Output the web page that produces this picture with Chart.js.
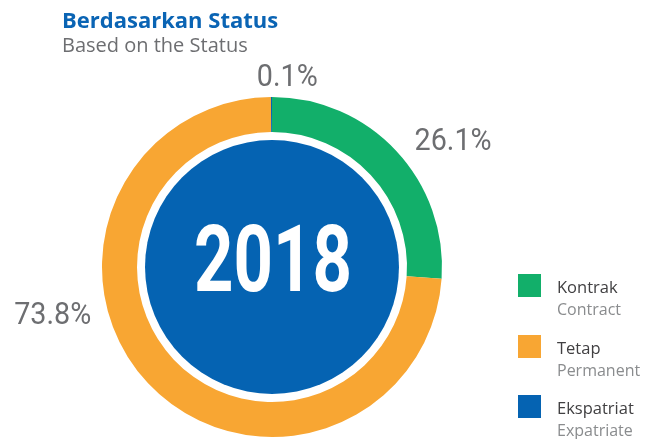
<!DOCTYPE html>
<html>
<head>
<meta charset="utf-8">
<script src="https://cdn.jsdelivr.net/npm/chart.js@4/dist/chart.umd.min.js"></script>
<style>
  html, body { margin: 0; padding: 0; background: #ffffff; }
  #wrap { position: relative; width: 657px; height: 439px; }
  canvas { display: block; }
</style>
</head>
<body>
<div id="wrap"><canvas id="c" width="657" height="439"></canvas></div>
<script>
// Employee composition by status, 2018
const categories = ['Kontrak', 'Tetap', 'Ekspatriat'];
const categoriesEn = ['Contract', 'Permanent', 'Expatriate'];
const shares = [26.1, 73.8, 0.1];
const colors = ['#12AF6A', '#F8A633', '#0563B2'];
const yearLabel = '2018';
const titleText = 'Berdasarkan Status';
const subtitleText = 'Based on the Status';

const numFont = 'Roboto, "DejaVu Sans", sans-serif';
const uiFont = '"Open Sans", "Noto Sans", sans-serif';

// Percent label offsets from the ring centre (in units of outer radius)
const labelSpots = [
  { dx: 1.065, dy: -0.735 },  // Kontrak
  { dx: -1.29, dy: 0.29 },    // Tetap
  { dx: 0.09, dy: -1.11 }     // Ekspatriat
];

// draw text squeezed horizontally by a factor, centred on (x, y)
function condensedText(ctx, text, x, y, sx) {
  ctx.save();
  ctx.translate(x, y);
  ctx.scale(sx, 1);
  ctx.textAlign = 'center';
  ctx.textBaseline = 'middle';
  ctx.fillText(text, 0, 0);
  ctx.restore();
}

const decorations = {
  id: 'decorations',
  beforeDatasetsDraw(chart) {
    const arc = chart.getDatasetMeta(0).data[0];
    const ctx = chart.ctx;
    // filled disc inside the ring
    ctx.save();
    ctx.beginPath();
    ctx.arc(arc.x, arc.y, arc.innerRadius - 8, 0, Math.PI * 2);
    ctx.fillStyle = colors[2];
    ctx.fill();
    ctx.restore();
  },
  afterDatasetsDraw(chart) {
    const arc = chart.getDatasetMeta(0).data[0];
    const ctx = chart.ctx;
    const cx = arc.x, cy = arc.y, R = arc.outerRadius;
    ctx.save();

    // year in the centre
    ctx.fillStyle = '#ffffff';
    ctx.font = 'bold 93px ' + numFont;
    const yw = ctx.measureText(yearLabel).width;
    condensedText(ctx, yearLabel, cx + 1, cy + 1, 158 / yw);

    // percentage labels
    ctx.fillStyle = '#6D6E71';
    ctx.font = '400 32px ' + numFont;
    const refW = ctx.measureText('26.1%').width;
    const sx = 77 / refW;
    shares.forEach((v, i) => {
      const s = labelSpots[i];
      condensedText(ctx, v.toFixed(1) + '%', cx + s.dx * R, cy + s.dy * R, sx);
    });

    // title block
    ctx.textAlign = 'left';
    ctx.textBaseline = 'alphabetic';
    ctx.fillStyle = '#0A64B4';
    ctx.font = 'bold 22px ' + uiFont;
    ctx.fillText(titleText, 62, 28);
    ctx.fillStyle = '#6D6E71';
    ctx.font = '20px ' + uiFont;
    ctx.fillText(subtitleText, 62, 52);

    // legend
    const lx = 518, ly0 = 274, step = 60.5;
    categories.forEach((name, i) => {
      const y = Math.round(ly0 + i * step);
      ctx.fillStyle = colors[i];
      ctx.fillRect(lx, y, 23, 23);
      ctx.fillStyle = '#414042';
      ctx.font = '16.5px ' + uiFont;
      ctx.fillText(name, 557, y + 19);
      ctx.fillStyle = '#8A8C8E';
      ctx.font = '16px ' + uiFont;
      ctx.fillText(categoriesEn[i], 557, y + 41);
    });
    ctx.restore();
  }
};

new Chart(document.getElementById('c'), {
  type: 'doughnut',
  data: {
    labels: categories,
    datasets: [{
      data: shares,
      backgroundColor: colors,
      borderWidth: 0,
      hoverOffset: 0
    }]
  },
  options: {
    responsive: false,
    animation: false,
    cutout: '79.4%',
    rotation: 0,
    layout: { padding: { left: 102, right: 215, top: 97, bottom: 2 } },
    plugins: {
      legend: { display: false },
      tooltip: { enabled: false },
      title: { display: false }
    }
  },
  plugins: [decorations]
});
</script>
</body>
</html>
